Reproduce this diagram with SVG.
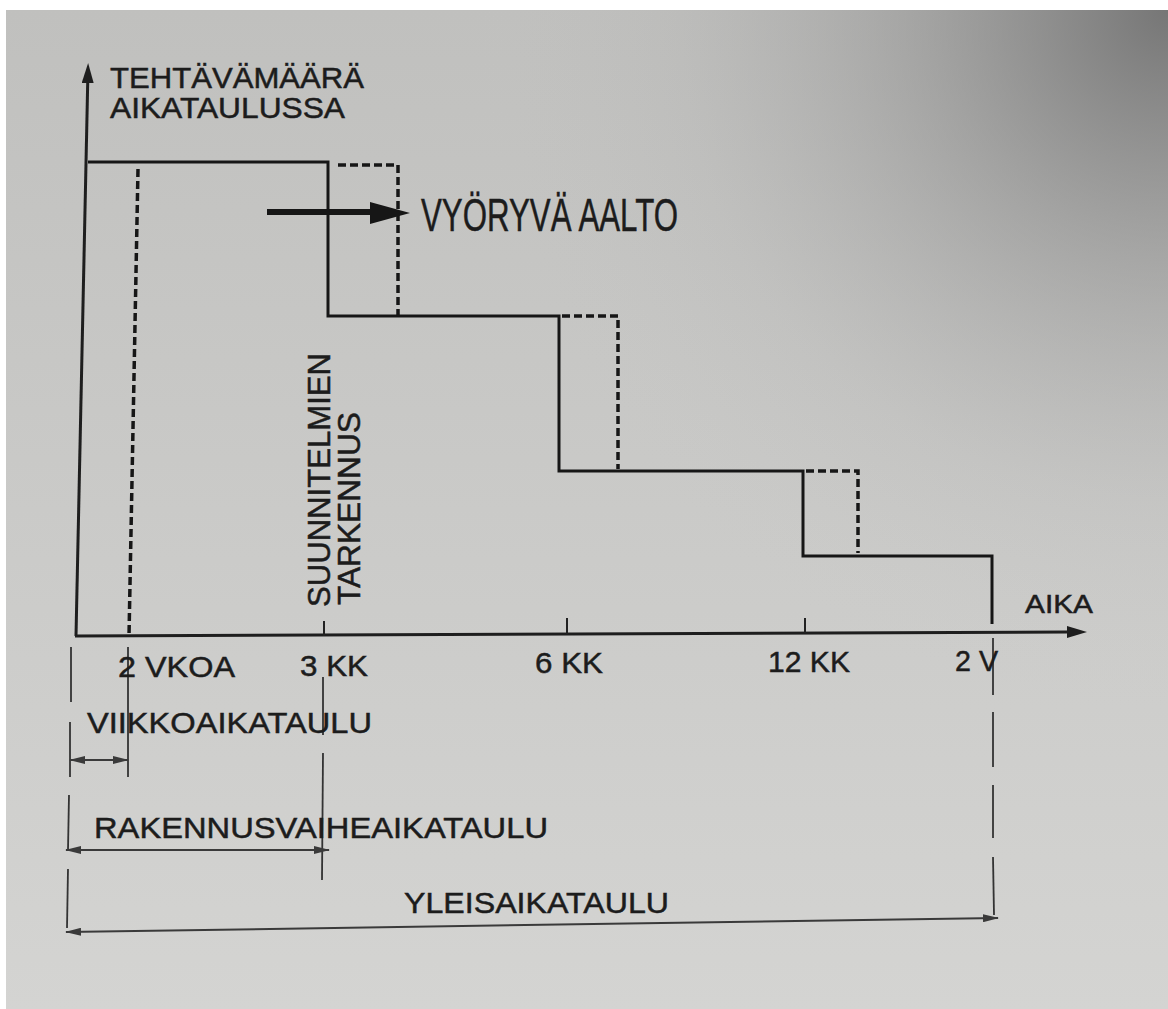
<svg xmlns="http://www.w3.org/2000/svg" width="1168" height="1009" viewBox="0 0 1168 1009">
  <defs>
    <linearGradient id="page" x1="0" y1="0" x2="0" y2="1">
      <stop offset="0" stop-color="#c0c0be"/>
      <stop offset="1" stop-color="#d4d4d2"/>
    </linearGradient>
    <radialGradient id="shade" gradientUnits="userSpaceOnUse" cx="1168" cy="10" r="700" fx="1168" fy="10">
      <stop offset="0" stop-color="#6e6e6e" stop-opacity="0.9"/>
      <stop offset="0.35" stop-color="#808080" stop-opacity="0.45"/>
      <stop offset="0.7" stop-color="#a0a0a0" stop-opacity="0.12"/>
      <stop offset="1" stop-color="#c8c8c8" stop-opacity="0"/>
    </radialGradient>
    <marker id="axisHead" viewBox="0 0 20 12" markerWidth="20" markerHeight="12" refX="0" refY="6" orient="auto" markerUnits="userSpaceOnUse">
      <path d="M0,0 L20,6 L0,12 z" fill="#1e1e1e"/>
    </marker>
    <marker id="dimHead" viewBox="0 0 16 8" markerWidth="16" markerHeight="8" refX="15" refY="4" orient="auto-start-reverse" markerUnits="userSpaceOnUse">
      <path d="M0,0 L16,4 L0,8 z" fill="#3a3a3a"/>
    </marker>
    <style>
      text { font-family: "Liberation Sans", Arial, sans-serif; fill: #1c1c1c; stroke: #1c1c1c; stroke-width: 0.5; }
      .lbl { font-size: 30px; }
      .axis { stroke: #1e1e1e; stroke-width: 3; fill: none; }
      .step { stroke: #161616; stroke-width: 3; fill: none; stroke-linejoin: miter; }
      .dash { stroke: #161616; stroke-width: 3.5; fill: none; stroke-dasharray: 8 4; }
      .tick { stroke: #222; stroke-width: 2; fill: none; }
      .guide { stroke: #333; stroke-width: 1.8; fill: none; }
      .dim { stroke: #3a3a3a; stroke-width: 2; fill: none; marker-start: url(#dimHead); marker-end: url(#dimHead); }
    </style>
  </defs>

  <rect x="0" y="0" width="1168" height="1009" fill="#ffffff"/>
  <rect x="6" y="10" width="1162" height="999" fill="url(#page)"/>
  <rect x="6" y="10" width="1162" height="999" fill="url(#shade)"/>

  <g id="connectors">
    <line class="axis" x1="76" y1="636" x2="87.7" y2="83" marker-end="url(#axisHead)"/>
    <line class="axis" x1="75" y1="636" x2="1067" y2="632" marker-end="url(#axisHead)"/>
    <polyline class="step" points="88,162 328,162 328,316 559,316 559,471 803,471 803,556 992,556 992,624"/>
    <polyline class="dash" points="338,165 398,165 398,316"/>
    <polyline class="dash" points="562,316 618,316 618,469"/>
    <polyline class="dash" points="806,471 858,471 858,553"/>
    <line class="dash" x1="138" y1="169" x2="129" y2="636" stroke-width="3"/>
    <line class="tick" x1="324" y1="621" x2="324" y2="636"/>
    <line class="tick" x1="567" y1="618" x2="567" y2="634"/>
    <line class="tick" x1="805" y1="618" x2="805" y2="633"/>
    <line class="guide" x1="128" y1="647" x2="128" y2="777"/>
    <line class="guide" x1="323" y1="677" x2="323" y2="735"/>
    <line class="guide" x1="323" y1="753" x2="322" y2="880"/>
    <line class="guide" x1="71" y1="647" x2="71" y2="702"/>
    <line class="guide" x1="70" y1="722" x2="70" y2="777"/>
    <line class="guide" x1="69" y1="795" x2="68" y2="850"/>
    <line class="guide" x1="68" y1="869" x2="67" y2="928"/>
    <line class="guide" x1="993" y1="638" x2="993" y2="695"/>
    <line class="guide" x1="993" y1="712" x2="993" y2="767"/>
    <line class="guide" x1="993" y1="785" x2="993" y2="838"/>
    <line class="guide" x1="993" y1="857" x2="994" y2="915"/>
    <line class="dim" x1="70" y1="760" x2="128" y2="760"/>
    <line class="dim" x1="66" y1="850" x2="329" y2="850"/>
    <line class="dim" x1="66" y1="932" x2="998" y2="918"/>
    <line x1="267" y1="212" x2="372" y2="212" stroke="#161616" stroke-width="6"/>
    <polygon points="370,202 410,213 370,224" fill="#161616"/>
  </g>

  <g id="y-axis-label">
    <text class="lbl" x="110" y="88" textLength="254" lengthAdjust="spacingAndGlyphs">TEHTÄVÄMÄÄRÄ</text>
    <text class="lbl" x="110" y="118" font-size="29" textLength="235" lengthAdjust="spacingAndGlyphs">AIKATAULUSSA</text>
  </g>
  <g id="wave-label">
    <text x="421" y="231" font-size="47" textLength="257" lengthAdjust="spacingAndGlyphs">VYÖRYVÄ AALTO</text>
  </g>
  <g id="refinement-label">
    <text transform="translate(330,607) rotate(-90)" x="0" y="0" font-size="31" textLength="254" lengthAdjust="spacingAndGlyphs">SUUNNITELMIEN</text>
    <text transform="translate(360,605) rotate(-90)" x="0" y="0" font-size="31" textLength="193" lengthAdjust="spacingAndGlyphs">TARKENNUS</text>
  </g>
  <g id="x-axis-label">
    <text x="1025" y="613" font-size="26" textLength="68" lengthAdjust="spacingAndGlyphs">AIKA</text>
  </g>
  <g id="tick-2vkoa">
    <text class="lbl" x="118" y="677" textLength="117" lengthAdjust="spacingAndGlyphs">2 VKOA</text>
  </g>
  <g id="tick-3kk">
    <text class="lbl" x="300" y="676" textLength="68" lengthAdjust="spacingAndGlyphs">3 KK</text>
  </g>
  <g id="tick-6kk">
    <text class="lbl" x="535" y="673" textLength="68" lengthAdjust="spacingAndGlyphs">6 KK</text>
  </g>
  <g id="tick-12kk">
    <text class="lbl" x="768" y="672" textLength="82" lengthAdjust="spacingAndGlyphs">12 KK</text>
  </g>
  <g id="tick-2v">
    <text class="lbl" x="955" y="671" textLength="43" lengthAdjust="spacingAndGlyphs">2 V</text>
  </g>
  <g id="viikkoaikataulu">
    <text class="lbl" x="87" y="733" textLength="285" lengthAdjust="spacingAndGlyphs">VIIKKOAIKATAULU</text>
  </g>
  <g id="rakennusvaiheaikataulu">
    <text class="lbl" x="94" y="838" textLength="454" lengthAdjust="spacingAndGlyphs">RAKENNUSVAIHEAIKATAULU</text>
  </g>
  <g id="yleisaikataulu">
    <text class="lbl" x="404" y="913" textLength="265" lengthAdjust="spacingAndGlyphs">YLEISAIKATAULU</text>
  </g>
</svg>
